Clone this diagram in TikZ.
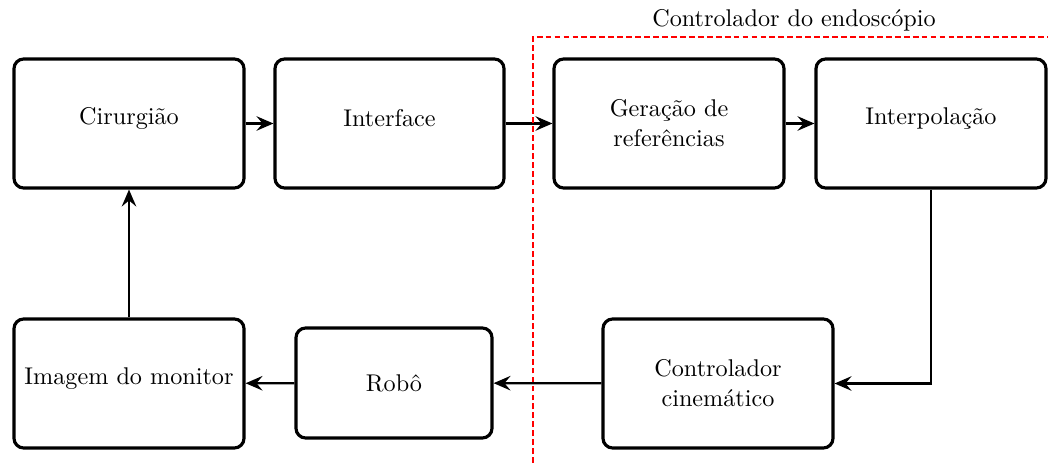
\documentclass[tikz,border=0pt]{standalone}
\usetikzlibrary{arrows.meta}
\newcommand{\lifted}[1]{\raisebox{2.2pt}[\height][\depth]{#1}}
\begin{document}
\begin{tikzpicture}[x=0.4133pt,y=-0.4133pt,
  block/.style={draw,line width=1.3pt,rounded corners=4pt,align=center,
    inner sep=0pt,font=\normalsize},
  link/.style={line width=0.9pt,-{Stealth[length=7pt,width=6pt,inset=2.5pt]}},
  zone/.style={red,line width=1pt,dash pattern=on 2.4pt off 1.3pt}]
\useasboundingbox (0,0) rectangle (1048,463);
% top row
\node[block,minimum width=230*0.4133pt,minimum height=129*0.4133pt] (cir) at (129,123.5) {\lifted{Cirurgião}};
\node[block,minimum width=229*0.4133pt,minimum height=129*0.4133pt] (int) at (389.5,123.5) {\lifted{Interface}};
\node[block,minimum width=230*0.4133pt,minimum height=129*0.4133pt] (ger) at (669,123.5) {Geração de\\[0.4pt]referências};
\node[block,minimum width=230*0.4133pt,minimum height=129*0.4133pt] (itp) at (931,123.5) {\lifted{Interpolação}};
% bottom row
\node[block,minimum width=230*0.4133pt,minimum height=129*0.4133pt] (img) at (129,383.5) {\lifted{Imagem do monitor}};
\node[block,minimum width=196*0.4133pt,minimum height=110*0.4133pt] (rob) at (394,383) {Robô};
\node[block,minimum width=230*0.4133pt,minimum height=129*0.4133pt] (cin) at (718,383.5) {Controlador\\[0.4pt]cinemático};
% connectors
\draw[link] (cir) -- (int);
\draw[link] (int) -- (ger);
\draw[link] (ger) -- (itp);
\draw[link] (itp.south) |- (cin.east);
\draw[link] (cin) -- (rob);
\draw[link] (rob) -- (img);
\draw[link] (img) -- (cir);
% controller boundary
\coordinate (zb) at (533,463);
\coordinate (zc) at (533,37);
\coordinate (ze) at (1048,37);
\draw[zone] (zb) -- (zc) -- (ze);
\node (zl) at (794,20) {Controlador do endoscópio};
\end{tikzpicture}
\end{document}
